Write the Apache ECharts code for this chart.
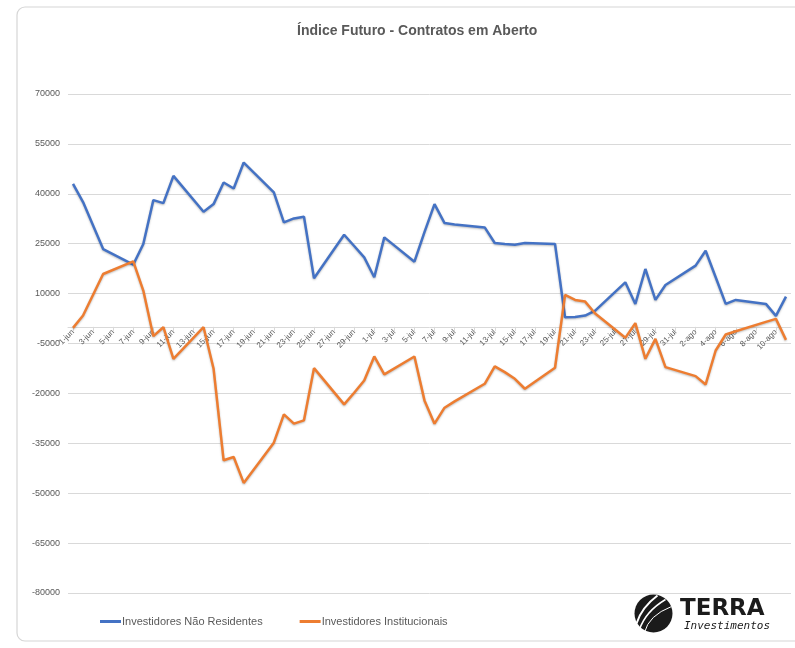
<!DOCTYPE html>
<html>
<head>
<meta charset="utf-8">
<script src="https://cdn.jsdelivr.net/npm/echarts@6/dist/echarts.min.js"></script>
<style>
html,body{margin:0;padding:0;background:#fff;}
#c{width:795px;height:648px;}
</style>
</head>
<body>
<div id="c"></div>
<script>
// Calendar span of the date axis (month label, number of days shown)
const months = [['jun', 30], ['jul', 31], ['ago', 11]];

// Trading days with data
const tradeDates = [
  '1-jun','2-jun','4-jun','7-jun','8-jun','9-jun','10-jun','11-jun','14-jun','15-jun',
  '16-jun','17-jun','18-jun','21-jun','22-jun','23-jun','24-jun','25-jun','28-jun','29-jun','30-jun',
  '1-jul','2-jul','5-jul','6-jul','7-jul','8-jul','9-jul','12-jul','13-jul','14-jul',
  '15-jul','16-jul','19-jul','20-jul','21-jul','22-jul','23-jul','26-jul','27-jul','28-jul','29-jul','30-jul',
  '2-ago','3-ago','4-ago','5-ago','6-ago','9-ago','10-ago','11-ago'
];

const naoResidentes = [
  43000, 37500, 23400, 18700, 24900, 38100, 37200, 45400, 34600, 36900,
  43400, 41600, 49400, 40400, 31400, 32600, 33100, 14600, 27700, 24300, 20900,
  14900, 26900, 19600, 28500, 36900, 31200, 30800, 29900, 25200, 24900,
  24700, 25200, 24900, 2900, 3000, 3400, 4900, 13400, 6900, 17400, 8100, 12600,
  18400, 22900, 14900, 6900, 8100, 6900, 3300, 9100
];

const institucionais = [
  -300, 3400, 15900, 19700, 10900, -2800, -100, -9600, -100, -12600,
  -40100, -39100, -46900, -34800, -26300, -29100, -28100, -12400, -23300, -19800, -16100,
  -8900, -14300, -8900, -22100, -29100, -24300, -22400, -17100, -11900, -13600,
  -15600, -18600, -12300, 9600, 8100, 7600, 4000, -3300, 1100, -9600, -3600, -12100,
  -14800, -17300, -7100, -2300, -1300, 1500, 2400, -3900
];

const yMin = -80000, yMax = 70000, yStep = 15000;

const categories = [];
months.forEach(([m, n]) => { for (let d = 1; d <= n; d++) categories.push(d + '-' + m); });

const gridTop = 94, gridBottom = 55, H = 648;
const plotH = H - gridTop - gridBottom;
// move the category axis from the bottom of the plot up to the value 0
const zeroOffset = -plotH * (0 - yMin) / (yMax - yMin);

const chart = echarts.init(document.getElementById('c'), null, {renderer: 'canvas'});
const txt = '#595959';
const font = '"Liberation Sans", Arial, sans-serif';

chart.setOption({
  animation: false,
  backgroundColor: '#ffffff',
  title: {
    text: 'Índice Futuro - Contratos em Aberto',
    left: 292,
    top: 19,
    textStyle: {color: txt, fontSize: 14, fontWeight: 'bold', fontFamily: font}
  },
  grid: {left: 68, right: 4, top: gridTop, bottom: gridBottom, containLabel: false, outerBoundsMode: 'none'},
  legend: {
    left: 95,
    top: 611,
    icon: 'rect',
    itemWidth: 21,
    itemHeight: 3,
    itemGap: 37,
    textStyle: {color: txt, fontSize: 11, fontFamily: font, padding: [0, 0, 0, -4]},
    data: ['Investidores Não Residentes', 'Investidores Institucionais']
  },
  xAxis: {
    type: 'category',
    data: categories,
    boundaryGap: true,
    position: 'bottom',
    offset: zeroOffset,
    axisLine: {onZero: false, lineStyle: {color: '#d9d9d9', width: 1}},
    axisTick: {show: true, interval: 1, alignWithLabel: true, length: 4, lineStyle: {color: '#d9d9d9'}},
    axisLabel: {interval: 1, rotate: 45, fontSize: 8, color: txt, fontFamily: font, margin: 4},
    splitLine: {show: false}
  },
  yAxis: {
    type: 'value',
    min: yMin,
    max: yMax,
    interval: yStep,
    axisLine: {show: false},
    axisTick: {show: false},
    axisLabel: {fontSize: 9, color: txt, fontFamily: font, margin: 8, formatter: v => String(v)},
    splitLine: {lineStyle: {color: '#d9d9d9', width: 1}}
  },
  series: [
    {
      name: 'Investidores Não Residentes',
      type: 'line',
      data: tradeDates.map((d, i) => [d, naoResidentes[i]]),
      showSymbol: false,
      symbol: 'none',
      color: '#4472C4',
      lineStyle: {width: 2.5, color: '#4472C4', shadowColor: 'rgba(0,0,0,0.25)', shadowBlur: 2, shadowOffsetY: 1},
      z: 3
    },
    {
      name: 'Investidores Institucionais',
      type: 'line',
      data: tradeDates.map((d, i) => [d, institucionais[i]]),
      showSymbol: false,
      symbol: 'none',
      color: '#ED7D31',
      lineStyle: {width: 2.5, color: '#ED7D31', shadowColor: 'rgba(0,0,0,0.25)', shadowBlur: 2, shadowOffsetY: 1},
      z: 3
    }
  ],
  graphic: [
    {
      type: 'rect', silent: true, z: -10,
      shape: {x: 17, y: 7, width: 800, height: 634, r: 8},
      style: {fill: 'none', stroke: '#d6d6d6', lineWidth: 1.2}
    },
    {
      type: 'group', left: 634, top: 593,
      children: [
        {type: 'circle', shape: {cx: 20, cy: 20, r: 19}, style: {fill: '#1b1b1b'}},
        {type: 'bezierCurve', shape: {x1: 3, y1: 30, cpx1: 8, cpy1: 14, x2: 24, y2: 2}, style: {stroke: '#fff', lineWidth: 2, fill: 'none'}},
        {type: 'bezierCurve', shape: {x1: 6, y1: 36, cpx1: 12, cpy1: 18, x2: 32, y2: 6}, style: {stroke: '#fff', lineWidth: 1.5, fill: 'none'}},
        {type: 'bezierCurve', shape: {x1: 11, y1: 39, cpx1: 15, cpy1: 22, x2: 38, y2: 13}, style: {stroke: '#fff', lineWidth: 1, fill: 'none'}}
      ]
    },
    {
      type: 'text', left: 680, top: 598,
      style: {text: 'TERRA', fill: '#1b1b1b', font: 'bold 23px "DejaVu Sans", sans-serif'}
    },
    {
      type: 'text', left: 684, top: 621,
      style: {text: 'Investimentos', fill: '#1b1b1b', font: 'italic 11px "DejaVu Sans Mono", monospace'}
    }
  ]
});
</script>
</body>
</html>
